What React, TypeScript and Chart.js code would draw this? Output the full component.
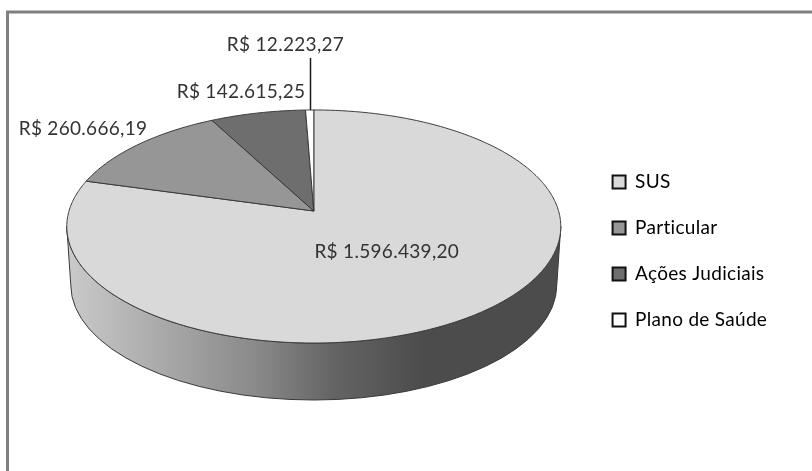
import React, { useEffect, useRef } from "react";
import { Chart, registerables } from "chart.js";

Chart.register(...registerables);

const categories = ["SUS", "Particular", "Ações Judiciais", "Plano de Saúde"];
const amounts = [1596439.2, 260666.19, 142615.25, 12223.27];
const sliceColors = ["#d9d9d9", "#969696", "#6e6e6e", "#ffffff"];
const labelFont = "19px Lato, 'Open Sans', sans-serif";
const labelColor = "#333333";

const formatBRL = (v: number) => {
  const [i, d] = v.toFixed(2).split(".");
  return "R$ " + i.replace(/\B(?=(\d{3})+(?!\d))/g, ".") + "," + d;
};

// perspective of the tilted disc
const PERSP_C = -0.133;
const PERSP_A = 86.4;
const WALL_RX = 243;
const WALL_CY_OFFSET = 74;
const WALL_RY = 115;

const pie3d = {
  id: "pie3d",
  beforeDraw(chart: any) {
    const { ctx } = chart;
    ctx.save();
    ctx.fillStyle = "#ffffff";
    ctx.fillRect(0, 0, chart.width, chart.height);
    ctx.strokeStyle = "#808080";
    ctx.lineWidth = 3;
    ctx.beginPath();
    ctx.moveTo(chart.width, 12);
    ctx.lineTo(7.5, 12);
    ctx.lineTo(7.5, chart.height);
    ctx.stroke();
    ctx.restore();
    (ctx as any).letterSpacing = "0.3px";
  },
  afterLayout(chart: any) {
    if (chart.legend) {
      chart.legend.top += 40;
      chart.legend.bottom += 40;
    }
  },
  beforeDatasetDraw(chart: any, args: any) {
    const { ctx } = chart;
    const arcs = chart.getDatasetMeta(args.index).data;
    const first = arcs[0];
    const cx = first.x;

    const rimPoint = (a: number) => {
      const x = Math.cos(a);
      const y = Math.sin(a);
      const den = 1 + PERSP_C * y;
      return {
        x: cx + (first.outerRadius * x) / den,
        y: (first.y + PERSP_A * y) / den,
      };
    };

    // side wall
    const wallCy = first.y + WALL_CY_OFFSET;
    ctx.save();
    const grad = ctx.createLinearGradient(67, 0, 561, 0);
    grad.addColorStop(0, "#cacaca");
    grad.addColorStop(0.2, "#a8a8a8");
    grad.addColorStop(0.38, "#8a8a8a");
    grad.addColorStop(0.54, "#646464");
    grad.addColorStop(0.72, "#4c4c4c");
    grad.addColorStop(1, "#4c4c4c");
    ctx.beginPath();
    const a0 = -PERSP_C;
    for (let i = 0; i <= 180; i++) {
      const p = rimPoint(a0 + ((Math.PI - 2 * a0) * i) / 180);
      if (i) ctx.lineTo(p.x, p.y);
      else ctx.moveTo(p.x, p.y);
    }
    ctx.ellipse(cx, wallCy, WALL_RX, WALL_RY, 0, Math.PI, 0, true);
    ctx.closePath();
    ctx.fillStyle = grad;
    ctx.fill();
    ctx.strokeStyle = "#3a3a3a";
    ctx.lineWidth = 1;
    ctx.stroke();

    // top face: each slice taken from the library's arc angles
    arcs.forEach((arc: any, i: number) => {
      const n = Math.max(2, Math.ceil((arc.endAngle - arc.startAngle) * 90));
      ctx.beginPath();
      ctx.moveTo(arc.x, arc.y);
      for (let k = 0; k <= n; k++) {
        const p = rimPoint(arc.startAngle + ((arc.endAngle - arc.startAngle) * k) / n);
        ctx.lineTo(p.x, p.y);
      }
      ctx.closePath();
      ctx.fillStyle = sliceColors[i];
      ctx.fill();
      ctx.strokeStyle = "#3a3a3a";
      ctx.lineWidth = 1;
      ctx.stroke();
    });
    ctx.restore();
    return false;
  },
  afterDraw(chart: any) {
    const { ctx } = chart;
    const arcs = chart.getDatasetMeta(0).data;
    const anchors = [
      { x: 73, y: 41 },
      { x: 83, y: 129 },
      { x: 241, y: 92 },
      { x: 285.5, y: 45 },
    ];
    ctx.save();
    ctx.font = labelFont;
    ctx.fillStyle = labelColor;
    ctx.textAlign = "center";
    ctx.textBaseline = "middle";
    amounts.forEach((v, i) => {
      const a = anchors[i];
      const x = i === 0 ? arcs[0].x + a.x : a.x;
      const y = i === 0 ? arcs[0].y + a.y : a.y;
      ctx.fillText(formatBRL(v), x, y);
    });
    ctx.strokeStyle = "#1a1a1a";
    ctx.lineWidth = 1.5;
    ctx.beginPath();
    ctx.moveTo(310.5, 58);
    ctx.lineTo(310.5, 110);
    ctx.stroke();
    ctx.restore();
  },
};

export default function App() {
  const ref = useRef<HTMLCanvasElement>(null);
  useEffect(() => {
    document.body.style.margin = "0";
    const chart = new Chart(ref.current as HTMLCanvasElement, {
      type: "pie",
      plugins: [pie3d],
      data: {
        labels: categories,
        datasets: [{ data: amounts, backgroundColor: sliceColors, borderColor: "#3a3a3a", borderWidth: 1 }],
      },
      options: {
        responsive: false,
        animation: false,
        radius: 244.8,
        layout: { padding: { left: 42, top: 0, bottom: 49, right: 39 } },
        plugins: {
          tooltip: { enabled: false },
          legend: {
            position: "right",
            labels: {
              boxWidth: 13,
              boxHeight: 13,
              padding: 27,
              color: labelColor,
              font: { family: "Lato, 'Open Sans', sans-serif", size: 19 },
              generateLabels: () =>
                categories.map((t, i) => ({
                  text: t,
                  fillStyle: sliceColors[i],
                  strokeStyle: "#111111",
                  lineWidth: 2,
                  index: i,
                  hidden: false,
                })),
            },
          },
        },
      } as any,
    });
    return () => chart.destroy();
  }, []);
  return <canvas ref={ref} width={812} height={471} style={{ display: "block" }} />;
}
